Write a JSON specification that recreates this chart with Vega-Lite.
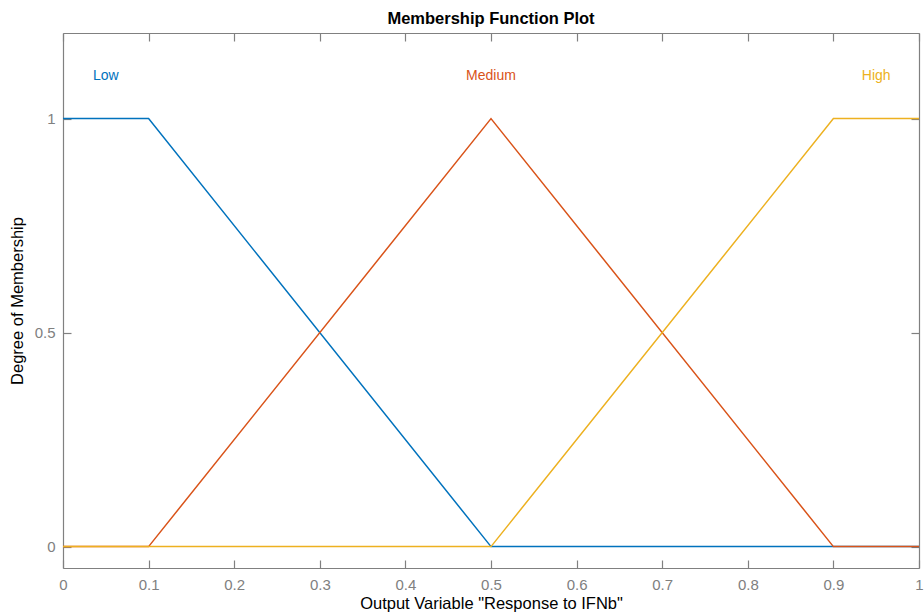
{
  "$schema": "https://vega.github.io/schema/vega-lite/v6.json",
  "autosize": "none",
  "width": 856,
  "height": 535,
  "padding": {"left": 63, "top": 33, "right": 5, "bottom": 46},
  "background": "white",
  "title": {"text": "Membership Function Plot", "font": "Liberation Sans", "fontSize": 16.5, "fontWeight": "bold", "color": "#000000", "offset": 5},
  "config": {
    "view": {"stroke": null},
    "axis": {"domainColor": "#808080", "tickColor": "#808080", "labelColor": "#808080", "labelFont": "Liberation Sans", "labelFontSize": 14, "titleFont": "Liberation Sans", "titleFontSize": 16.5, "titleFontWeight": "normal", "titleColor": "#000000", "grid": false, "tickSize": -8, "domainWidth": 1.2, "tickWidth": 1.2}
  },
  "datasets": {
    "mf": [
      {"set": "Low", "x": 0, "y": 1},
      {"set": "Low", "x": 0.1, "y": 1},
      {"set": "Low", "x": 0.5, "y": 0},
      {"set": "Low", "x": 1, "y": 0},
      {"set": "Medium", "x": 0, "y": 0},
      {"set": "Medium", "x": 0.1, "y": 0},
      {"set": "Medium", "x": 0.5, "y": 1},
      {"set": "Medium", "x": 0.9, "y": 0},
      {"set": "Medium", "x": 1, "y": 0},
      {"set": "High", "x": 0, "y": 0},
      {"set": "High", "x": 0.5, "y": 0},
      {"set": "High", "x": 0.9, "y": 1},
      {"set": "High", "x": 1, "y": 1}
    ],
    "labels": [
      {"set": "Low", "x": 0.05, "y": 1.1},
      {"set": "Medium", "x": 0.5, "y": 1.1},
      {"set": "High", "x": 0.95, "y": 1.1}
    ]
  },
  "layer": [
    {
      "data": {"name": "mf"},
      "mark": {"type": "line", "strokeWidth": 1.5, "clip": true},
      "encoding": {
        "x": {"field": "x", "type": "quantitative", "scale": {"domain": [0, 1], "nice": false, "zero": false},
          "axis": {"orient": "bottom", "title": "Output Variable \"Response to IFNb\"", "values": [0, 0.1, 0.2, 0.3, 0.4, 0.5, 0.6, 0.7, 0.8, 0.9, 1], "format": "~g", "labelFontSize": 15, "labelPadding": 17, "titlePadding": 3, "labelFlush": false}},
        "y": {"field": "y", "type": "quantitative", "scale": {"domain": [-0.05, 1.2], "nice": false, "zero": false},
          "axis": {"orient": "left", "title": "Degree of Membership", "values": [0, 0.5, 1], "format": "~g", "labelFontSize": 15, "labelPadding": 16, "titlePadding": 9}},
        "color": {"field": "set", "type": "nominal", "scale": {"domain": ["Low", "Medium", "High"], "range": ["#0072BD", "#D95319", "#EDB120"]}, "legend": null},
        "order": {"field": "x"}
      }
    },
    {
      "data": {"name": "labels"},
      "mark": {"type": "text", "font": "Liberation Sans", "fontSize": 14, "align": "center", "baseline": "middle"},
      "encoding": {
        "x": {"field": "x", "type": "quantitative", "axis": {"orient": "top", "title": null, "labels": false, "values": [0, 0.1, 0.2, 0.3, 0.4, 0.5, 0.6, 0.7, 0.8, 0.9, 1]}},
        "y": {"field": "y", "type": "quantitative", "axis": {"orient": "right", "title": null, "labels": false, "values": [0, 0.5, 1]}},
        "text": {"field": "set"},
        "color": {"field": "set", "type": "nominal", "legend": null}
      }
    }
  ],
  "resolve": {"axis": {"x": "independent", "y": "independent"}}
}
